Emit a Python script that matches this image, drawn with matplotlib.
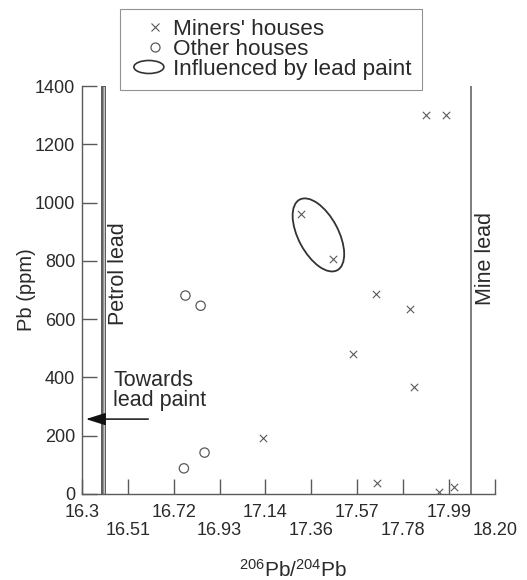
import matplotlib
matplotlib.use('Agg')
import matplotlib.pyplot as plt
from matplotlib.patches import Ellipse
from matplotlib.lines import Line2D
from matplotlib.legend_handler import HandlerBase
from matplotlib.transforms import ScaledTranslation
import numpy as np

plt.rcParams['font.family'] = ['Liberation Sans', 'DejaVu Sans']
plt.rcParams['mathtext.fontset'] = 'custom'
plt.rcParams['mathtext.rm'] = 'Liberation Sans'
plt.rcParams['mathtext.it'] = 'Liberation Sans'

# === Data ===
miners_ratio = [17.881, 17.976, 17.310, 17.457, 17.655, 17.809, 17.549, 17.828, 17.132, 17.656, 17.942, 18.014]
miners_pb = [1300, 1300, 960, 805, 685, 636, 479, 368, 193, 39, 8, 23]
other_ratio = [16.776, 16.846, 16.769, 16.864]
other_pb = [681, 646, 88, 142]

petrol_lead = 16.397
mine_lead = 18.088
paint_group = (17.388, 889)   # centre of the lead-paint ring

x_ticks = np.linspace(16.3, 18.2, 10)
x_tick_labels = ['16.3', '16.51', '16.72', '16.93', '17.14', '17.36', '17.57', '17.78', '17.99', '18.20']
y_ticks = [0, 200, 400, 600, 800, 1000, 1200, 1400]

ink = '#2a2a2a'
grey = '#5a5a5a'

# === Plot ===
fig = plt.figure(figsize=(5.27, 5.80), dpi=100)
ax = fig.add_axes([0.1556, 0.1483, 0.7834, 0.7034])

ax.scatter(miners_ratio, miners_pb, marker='x', s=28, color=grey, linewidths=0.8, zorder=3)
ax.scatter(other_ratio, other_pb, marker='o', s=45, facecolors='none', edgecolors=grey, linewidths=0.9, zorder=3)

# petrol lead band and mine lead line
ax.fill_betweenx([0, 1400], petrol_lead - 0.011, petrol_lead + 0.011,
                 facecolor='#c4c4c4', edgecolor='#5a5a5a', linewidth=0.7, hatch='|||', zorder=2)
ax.plot([mine_lead, mine_lead], [0, 1400], color=grey, linewidth=1.1)

# ring round the lead-paint samples (size fixed in inches)
ring = Ellipse((0, 0), 0.80, 0.40, angle=-62, fill=False, edgecolor='#333333', linewidth=1.3,
               transform=fig.dpi_scale_trans + ScaledTranslation(paint_group[0], paint_group[1], ax.transData))
ax.add_patch(ring)

ax.annotate('', xy=(16.318, 257), xytext=(16.605, 257),
            arrowprops=dict(arrowstyle='-|>,head_length=1.2,head_width=0.38', color='#111111',
                            lw=1.1, shrinkA=0, shrinkB=0))
ax.text(16.443, 425, 'Towards\nlead paint', fontsize=15.5, color=ink, ha='left', va='top', linespacing=0.95)
ax.text(16.47, 580, 'Petrol lead', fontsize=15.5, color=ink, rotation=90, ha='center', va='bottom')
ax.text(18.155, 649, 'Mine lead', fontsize=15.5, color=ink, rotation=90, ha='center', va='bottom')

ax.set_xlim(16.3, 18.2)
ax.set_ylim(0, 1400)
for side in ['top', 'right']:
    ax.spines[side].set_visible(False)
for side in ['left', 'bottom']:
    ax.spines[side].set_color(grey)
    ax.spines[side].set_linewidth(1.0)

ax.set_xticks(x_ticks)
ax.set_xticklabels([lab if i % 2 == 0 else '\n' + lab for i, lab in enumerate(x_tick_labels)])
ax.set_yticks(y_ticks)
ax.tick_params(direction='in', length=11, width=1.0, color=grey, labelsize=13, labelcolor=ink)
ax.tick_params(axis='x', pad=7)
ax.tick_params(axis='y', pad=5)
for t in ax.get_xticklabels():
    t.set_linespacing(1.1)

ax.set_ylabel('Pb (ppm)', fontsize=14.5, color=ink, labelpad=-1)
ax.set_xlabel(r'$^{206}$Pb/$^{204}$Pb', fontsize=15, color=ink, labelpad=14)
ax.xaxis.label.set_x(0.512)


class HandlerRing(HandlerBase):
    # small ring sitting at the right end of the handle box
    def create_artists(self, legend, orig_handle, xdescent, ydescent, width, height, fontsize, trans):
        w = 30 / 100 * 72
        e = Ellipse((width - w / 2 - xdescent, height / 2 - ydescent), w, 13 / 100 * 72,
                    fill=False, edgecolor='#333333', linewidth=1.2, transform=trans)
        return [e]


class HandlerMark(HandlerBase):
    # marker drawn right of the handle centre, like the printed key
    def create_artists(self, legend, orig_handle, xdescent, ydescent, width, height, fontsize, trans):
        m = Line2D([width * 0.73 - xdescent], [height / 2 - ydescent], linestyle='none',
                   marker=orig_handle.get_marker(), markersize=orig_handle.get_markersize(),
                   markerfacecolor='none', markeredgecolor=grey,
                   markeredgewidth=orig_handle.get_markeredgewidth(), transform=trans)
        return [m]


handles = [
    Line2D([], [], marker='x', linestyle='none', markersize=5.5, markeredgewidth=0.8),
    Line2D([], [], marker='o', linestyle='none', markersize=6.5, markeredgewidth=0.9),
    Ellipse((0, 0), 1, 1),
]
labels = ["Miners' houses", 'Other houses', 'Influenced by lead paint']
leg = fig.legend(handles, labels, loc='upper left', bbox_to_anchor=(0.2277, 0.9845),
                 borderaxespad=0, fancybox=False, edgecolor='#777777', fontsize=16.2,
                 handlelength=1.5, handletextpad=0.42, labelspacing=-0.05, borderpad=0.45,
                 handler_map={Ellipse: HandlerRing(), Line2D: HandlerMark()})
leg.get_frame().set_linewidth(0.8)
for t in leg.get_texts():
    t.set_color(ink)

plt.savefig('out.png', dpi=100)
